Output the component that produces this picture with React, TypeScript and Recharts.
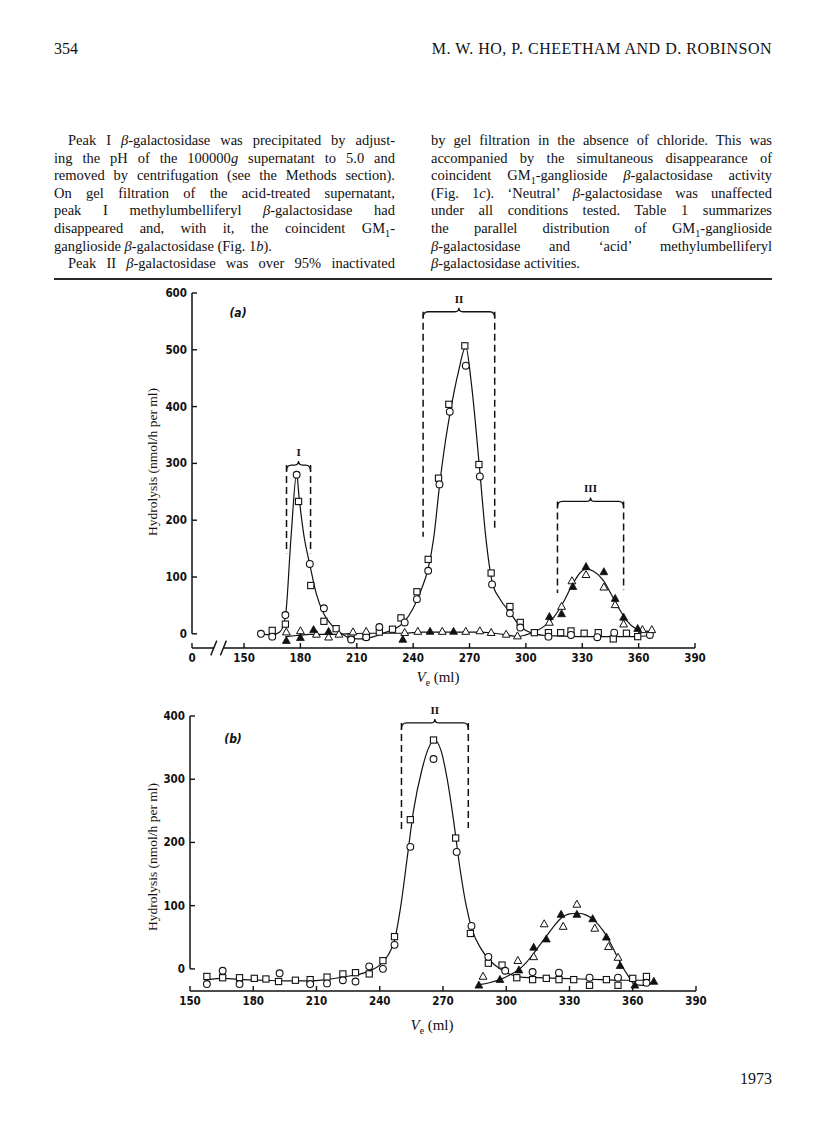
import React from 'react';
import { ComposedChart, Line, Scatter, XAxis, YAxis, ReferenceLine } from 'recharts';

type P = [number, number];

// ---------------- Panel (a) ----------------
const aXTicks = [122.3, 150, 180, 210, 240, 270, 300, 330, 360, 390];
const aXTickLabels = ['0', '150', '180', '210', '240', '270', '300', '330', '360', '390'];
const aYTicks = [0, 100, 200, 300, 400, 500, 600];

const aCircles: P[] = [
  [159, 0], [165, -5], [172, 33], [178, 280], [185, 123], [192.5, 45], [207, -10], [215, -6],
  [222, 12], [235.5, 20], [242, 61], [248, 111], [254, 263], [259.5, 391], [268, 472],
  [275.5, 277], [282, 87], [291.5, 36], [297, 11], [312, -5], [324, -2], [338, -6], [347, 2], [366, -2],
];
const aSquares: P[] = [
  [165, 6], [172, 17], [179, 233], [185.5, 85], [192.5, 22], [199, 9], [207, -5], [215, -5],
  [222, 3], [229, 8], [233.5, 28], [242, 74], [248, 131], [253.5, 274], [259, 404], [267.5, 507],
  [275, 298], [281.5, 107], [291.5, 48], [297, 20], [304.5, 2], [312, 2], [318.5, 2], [324, 5],
  [331, 1], [338.5, 2], [346.5, -9], [353.5, 1], [359.5, -5],
];
const aOpenTri: P[] = [
  [172.5, 3], [180, 5], [188.5, -1], [195, -6], [200.5, -1], [208, 3], [215, 4], [235.5, 2],
  [242.5, 4], [255.5, 4], [268, 4], [275.5, 5], [281.5, 2], [289.5, -1], [295.5, -4],
  [312.5, 20], [319, 48], [324.5, 93], [332, 104], [341.5, 82], [347.5, 51], [352, 17], [362, 7], [367, 7],
];
const aFilledTri: P[] = [
  [172.5, -12], [180, -7], [187, 7], [195, 4], [234.5, -10], [249, 4], [261.5, 4],
  [312.5, 30], [319, 35], [325, 83], [332, 118], [341.5, 109], [347.5, 62], [352, 29], [359.5, 9],
];
const aCurveMain: P[] = [
  [159, 0], [165, -2], [169, 3], [172, 30], [175, 170], [178, 282], [179.3, 240], [182, 170],
  [185, 122], [188.5, 70], [192.5, 35], [197, 14], [202, 0], [207, -8], [213, -9], [219, -5],
  [225, 2], [230, 8], [235, 20], [240, 45], [244, 75], [248, 115], [251, 170], [254, 260],
  [257, 335], [260, 395], [264, 460], [268, 505], [271, 440], [275.5, 285], [278.5, 175],
  [282, 92], [286, 62], [291.5, 38], [296, 17], [300, 6], [305, 0], [310, -3], [318, -4],
  [330, -5], [340, -5], [350, -5], [358, -5], [366, -3],
];
const aCurveTri: P[] = [
  [172, -5], [178, -3], [185, -1], [195, -1], [205, 0], [215, 1], [225, 1], [235, 1], [245, 3],
  [255, 3], [265, 3], [275, 3], [283, 1], [290, -2], [295.5, -5], [300, -2], [305, 4], [310, 14],
  [315, 30], [320, 56], [325, 88], [329, 108], [332, 114], [336, 110], [341, 95], [346, 66],
  [350, 42], [354, 22], [358, 10], [362, 5], [368, 4],
];
const aBrackets = [
  { label: 'I', left: 172.6, right: 185.4, top: 297, bottomL: 142, bottomR: 142 },
  { label: 'II', left: 245.3, right: 283.4, top: 567, bottomL: 171, bottomR: 183 },
  { label: 'III', left: 316.8, right: 352, top: 233, bottomL: 72, bottomR: 77 },
];

// ---------------- Panel (b) ----------------
const bXTicks = [150, 180, 210, 240, 270, 300, 330, 360, 390];
const bYTicks = [0, 100, 200, 300, 400];

const bSquares: P[] = [
  [158, -12], [165.5, -14], [173.5, -14], [180.5, -15], [186, -16], [192, -20], [200, -18],
  [207, -17], [215, -13], [222.5, -8], [228.5, -6], [235, -8], [241.5, 13], [247, 51],
  [254.5, 236], [265.5, 362], [276, 207], [283, 56], [291.5, 9], [298, 6], [305, -14],
  [312.5, -17], [319, -15], [325, -17], [332, -17], [339.5, -26], [347.5, -17], [353, -26],
  [360, -15], [366.5, -12],
];
const bCircles: P[] = [
  [158, -24], [165.5, -3], [173.5, -24], [192.5, -7], [207, -24], [215, -23], [222.5, -18],
  [228.5, -20], [235, 4], [241.5, 0], [247, 38], [254.5, 193], [265.5, 332], [276.5, 185],
  [283.5, 68], [291.5, 19], [299.5, -3], [312.5, -5], [325, -6], [339.5, -14], [353, -14], [366.5, -22],
];
const bOpenTri: P[] = [
  [289, -12], [305.5, 13], [313, 19], [318, 71], [327, 67], [333.5, 102], [342, 64], [348.5, 35], [353, 18],
];
const bFilledTri: P[] = [
  [287, -26], [297, -17], [306, -2], [313, 34], [319, 47], [326, 86], [333.5, 86], [341, 79],
  [347.5, 50], [354, 5], [361, -26], [370, -20],
];
const bCurveMain: P[] = [
  [158, -17], [166, -15], [175, -17], [185, -18], [195, -19], [205, -19], [215, -17], [224, -12],
  [231, -8], [236, -2], [240, 6], [244, 22], [247, 45], [250, 100], [253, 175], [256, 250],
  [260, 315], [263, 348], [266, 362], [269, 346], [272, 300], [275, 235], [278, 160], [281, 100],
  [284, 60], [288, 32], [292, 14], [297, 0], [302, -9], [307, -13], [315, -14], [325, -15],
  [335, -16], [345, -17], [355, -18], [366, -18],
];
const bCurveTri: P[] = [
  [287, -25], [292, -22], [297, -17], [302, -9], [306, -1], [310, 12], [314, 29], [318, 47],
  [322, 65], [326, 80], [330, 87], [334, 88], [338, 85], [342, 76], [346, 60], [350, 37],
  [354, 10], [358, -12], [361, -25], [365, -26], [370, -20],
];
const bBrackets = [
  { label: 'II', left: 250.3, right: 282, top: 389, bottomL: 221, bottomR: 223 },
];

// ---------------- helpers ----------------
const INK = '#111';
const serif = "'Liberation Serif', 'Times New Roman', serif";
const tickFont = "'Liberation Sans Narrow', 'DejaVu Sans Condensed', 'Liberation Sans', sans-serif";

const pts = (arr: P[]) => arr.map(([x, y]) => ({ x, y }));

const CircleMark = (p: any) => (
  <circle cx={p.cx} cy={p.cy} r={3.4} fill="#fff" stroke={INK} strokeWidth={1.1} />
);
const SquareMark = (p: any) => (
  <rect x={p.cx - 3.1} y={p.cy - 3.1} width={6.2} height={6.2} fill="#fff" stroke={INK} strokeWidth={1.1} />
);
const triPath = (cx: number, cy: number) =>
  `M${cx},${cy - 4.2} L${cx + 3.9},${cy + 2.8} L${cx - 3.9},${cy + 2.8} Z`;
const OpenTriMark = (p: any) => (
  <path d={triPath(p.cx, p.cy)} fill="#fff" stroke={INK} strokeWidth={1} />
);
const FilledTriMark = (p: any) => (
  <path d={triPath(p.cx, p.cy)} fill={INK} stroke={INK} strokeWidth={0.8} />
);

const makeXTick = (labels?: string[], ticks?: number[]) => (p: any) => {
  const v = p.payload.value;
  let text = String(v);
  if (labels && ticks) {
    const i = ticks.indexOf(v);
    if (i >= 0) text = labels[i];
  }
  return (
    <g>
      <line x1={p.x} y1={p.y} x2={p.x} y2={p.y - 5} stroke={INK} strokeWidth={1.4} />
      <text x={p.x} y={p.y + 14} textAnchor="middle" fill={INK}
        style={{ fontFamily: tickFont, fontWeight: 700, fontSize: 11.5 }}>{text}</text>
    </g>
  );
};
const YTick = (p: any) => (
  <g>
    <line x1={p.x} y1={p.y} x2={p.x + 5} y2={p.y} stroke={INK} strokeWidth={1.4} />
    <text x={p.x - 5} y={p.y + 4} textAnchor="end" fill={INK}
      style={{ fontFamily: tickFont, fontWeight: 700, fontSize: 11.5 }}>{p.payload.value}</text>
  </g>
);

const braceShape = (label: string) => (p: any) => {
  const { x1, x2, y1 } = p;
  const y = y1;
  const xm = (x1 + x2) / 2;
  const d = `M${x1},${y + 6} Q${x1},${y} ${x1 + 5},${y} L${xm - 4},${y} Q${xm},${y} ${xm},${y - 4} ` +
    `Q${xm},${y} ${xm + 4},${y} L${x2 - 5},${y} Q${x2},${y} ${x2},${y + 6}`;
  return (
    <g>
      <path d={d} fill="none" stroke={INK} strokeWidth={1.3} />
      <text x={xm} y={y - 9} textAnchor="middle" fill={INK}
        style={{ fontFamily: serif, fontWeight: 700, fontSize: 11 }}>{label}</text>
    </g>
  );
};

const renderBrackets = (list: typeof aBrackets) =>
  list.flatMap((b, i) => [
    <ReferenceLine key={`bl${i}`} ifOverflow="visible" segment={[{ x: b.left, y: b.top }, { x: b.left, y: b.bottomL }]}
      stroke={INK} strokeWidth={1.5} strokeDasharray="7 4" />,
    <ReferenceLine key={`br${i}`} ifOverflow="visible" segment={[{ x: b.right, y: b.top }, { x: b.right, y: b.bottomR }]}
      stroke={INK} strokeWidth={1.5} strokeDasharray="7 4" />,
    <ReferenceLine key={`bb${i}`} ifOverflow="visible" segment={[{ x: b.left, y: b.top }, { x: b.right, y: b.top }]}
      shape={braceShape(b.label)} />,
  ]);

const seriesEls = (circles: P[], squares: P[], openT: P[], filledT: P[], curveMain: P[], curveTri: P[]) => [
  <Line key="cm" data={pts(curveMain)} dataKey="y" type="monotone" dot={false} activeDot={false}
    stroke={INK} strokeWidth={1.2} isAnimationActive={false} />,
  <Line key="ct" data={pts(curveTri)} dataKey="y" type="monotone" dot={false} activeDot={false}
    stroke={INK} strokeWidth={1.2} isAnimationActive={false} />,
  <Scatter key="sq" data={pts(squares)} dataKey="y" shape={SquareMark} isAnimationActive={false} />,
  <Scatter key="ci" data={pts(circles)} dataKey="y" shape={CircleMark} isAnimationActive={false} />,
  <Scatter key="ot" data={pts(openT)} dataKey="y" shape={OpenTriMark} isAnimationActive={false} />,
  <Scatter key="ft" data={pts(filledT)} dataKey="y" shape={FilledTriMark} isAnimationActive={false} />,
];

const abs = (s: React.CSSProperties): React.CSSProperties => ({ position: 'absolute', ...s });
const sub1 = <sub style={{ fontSize: '0.7em', verticalAlign: 'sub', lineHeight: 0 }}>1</sub>;
const B = <i>β</i>;

const leftLines: React.ReactNode[] = [
  <>Peak I {B}-galactosidase was precipitated by adjust-</>,
  <>ing the pH of the 100000<i>g</i> supernatant to 5.0 and</>,
  <>removed by centrifugation (see the Methods section).</>,
  <>On gel filtration of the acid-treated supernatant,</>,
  <>peak I methylumbelliferyl {B}-galactosidase had</>,
  <>disappeared and, with it, the coincident GM{sub1}-</>,
  <>ganglioside {B}-galactosidase (Fig. 1<i>b</i>).</>,
  <>Peak II {B}-galactosidase was over 95% inactivated</>,
];
const leftIndent = [true, false, false, false, false, false, false, true];
const leftLast = [false, false, false, false, false, false, true, false];
const rightLines: React.ReactNode[] = [
  <>by gel filtration in the absence of chloride. This was</>,
  <>accompanied by the simultaneous disappearance of</>,
  <>coincident GM{sub1}-ganglioside {B}-galactosidase activity</>,
  <>(Fig. 1<i>c</i>). ‘Neutral’ {B}-galactosidase was unaffected</>,
  <>under all conditions tested. Table 1 summarizes</>,
  <>the parallel distribution of GM{sub1}-ganglioside</>,
  <>{B}-galactosidase and ‘acid’ methylumbelliferyl</>,
  <>{B}-galactosidase activities.</>,
];
const rightLast = [false, false, false, false, false, false, false, true];

const TXT_L = 54;
const COL_W = 341;
const TXT_R = 431;
const LINE0 = 140;
const LSTEP = 17.6;
const FS = 14.5;

const YTitle = ({ cy }: { cy: number }) => (
  <div style={abs({ left: 153, top: cy, transform: 'translate(-50%,-50%) rotate(-90deg)', whiteSpace: 'nowrap',
    fontFamily: serif, fontSize: 13.5, color: INK })}>Hydrolysis (nmol/h per ml)</div>
);
const VeLabel = ({ cx, cy }: { cx: number; cy: number }) => (
  <div style={abs({ left: cx, top: cy, transform: 'translate(-50%,-50%)', whiteSpace: 'nowrap',
    fontFamily: serif, fontSize: 15, color: INK })}><i>V</i><sub style={{ fontSize: '0.65em', lineHeight: 0 }}>e</sub> (ml)</div>
);

export default function App() {
  return (
    <div style={abs({ left: 0, top: 0, width: 816, height: 1136, background: '#fff', overflow: 'hidden' })}>
      {/* running head */}
      <div style={abs({ left: TXT_L, top: 40, fontFamily: serif, fontSize: 16, color: INK })}>354</div>
      <div style={abs({ right: 816 - (TXT_R + COL_W), top: 40, fontFamily: serif, fontSize: 16, letterSpacing: 0.5,
        color: INK, whiteSpace: 'nowrap' })}>
        M. W. HO, P. CHEETHAM AND D. ROBINSON
      </div>

      {leftLines.map((ln, i) => (
        <div key={`l${i}`} style={abs({
          left: TXT_L + (leftIndent[i] ? 14 : 0), width: COL_W - (leftIndent[i] ? 14 : 0),
          top: LINE0 + i * LSTEP - 9, height: 18, lineHeight: '18px',
          fontFamily: serif, fontSize: FS, color: INK,
          textAlign: 'justify', textAlignLast: leftLast[i] ? 'left' : 'justify',
        } as React.CSSProperties)}>{ln}</div>
      ))}
      {rightLines.map((ln, i) => (
        <div key={`r${i}`} style={abs({
          left: TXT_R, width: COL_W, top: LINE0 + i * LSTEP - 9, height: 18, lineHeight: '18px',
          fontFamily: serif, fontSize: FS, color: INK,
          textAlign: 'justify', textAlignLast: rightLast[i] ? 'left' : 'justify',
        } as React.CSSProperties)}>{ln}</div>
      ))}
      <div style={abs({ left: TXT_L, top: 278, width: TXT_R + COL_W - TXT_L, height: 2, background: '#2a2a2a' })} />

      {/* Panel (a) */}
      <div style={abs({ left: 0, top: 0 })}>
        <ComposedChart width={816} height={700} margin={{ top: 293, left: 152, right: 121, bottom: 22 }}>
          <XAxis dataKey="x" type="number" domain={[122.3, 390]} ticks={aXTicks} interval={0}
            axisLine={false} tickLine={false} tickSize={0} tickMargin={0} height={30}
            tick={makeXTick(aXTickLabels, aXTicks)} allowDataOverflow />
          <YAxis dataKey="y" type="number" domain={[-25, 600]} ticks={aYTicks} interval={0}
            axisLine={false} tickLine={false} tickSize={0} tickMargin={0} width={40} tick={YTick} allowDataOverflow />
          <ReferenceLine ifOverflow="visible" segment={[{ x: 122.3, y: 0 }, { x: 122.3, y: 600 }]} stroke={INK} strokeWidth={1.5} />
          <ReferenceLine ifOverflow="visible" segment={[{ x: 122.3, y: -25 }, { x: 134, y: -25 }]} stroke={INK} strokeWidth={1.5} />
          <ReferenceLine ifOverflow="visible" segment={[{ x: 139, y: -25 }, { x: 390, y: -25 }]} stroke={INK} strokeWidth={1.5} />
          <ReferenceLine ifOverflow="visible" segment={[{ x: 132.3, y: -38 }, { x: 135.5, y: -12 }]} stroke={INK} strokeWidth={1.4} />
          <ReferenceLine ifOverflow="visible" segment={[{ x: 137.4, y: -38 }, { x: 140.6, y: -12 }]} stroke={INK} strokeWidth={1.4} />
          {renderBrackets(aBrackets)}
          {seriesEls(aCircles, aSquares, aOpenTri, aFilledTri, aCurveMain, aCurveTri)}
        </ComposedChart>
      </div>
      <div style={abs({ left: 238, top: 313, transform: 'translate(-50%,-50%)', fontFamily: tickFont, fontWeight: 700,
        fontStyle: 'italic', fontSize: 12, color: INK })}>(a)</div>
      <YTitle cy={462} />
      <VeLabel cx={438} cy={677} />

      {/* Panel (b) */}
      <div style={abs({ left: 0, top: 680 })}>
        <ComposedChart width={816} height={370} margin={{ top: 36, left: 150, right: 120, bottom: 29 }}>
          <XAxis dataKey="x" type="number" domain={[150, 390]} ticks={bXTicks} interval={0}
            axisLine={false} tickLine={false} tickSize={0} tickMargin={0} height={30}
            tick={makeXTick()} allowDataOverflow />
          <YAxis dataKey="y" type="number" domain={[-35, 400]} ticks={bYTicks} interval={0}
            axisLine={false} tickLine={false} tickSize={0} tickMargin={0} width={40} tick={YTick} allowDataOverflow />
          <ReferenceLine ifOverflow="visible" segment={[{ x: 150, y: 0 }, { x: 150, y: 400 }]} stroke={INK} strokeWidth={1.5} />
          <ReferenceLine ifOverflow="visible" segment={[{ x: 150, y: -35 }, { x: 390, y: -35 }]} stroke={INK} strokeWidth={1.5} />
          {renderBrackets(bBrackets)}
          {seriesEls(bCircles, bSquares, bOpenTri, bFilledTri, bCurveMain, bCurveTri)}
        </ComposedChart>
      </div>
      <div style={abs({ left: 233, top: 739, transform: 'translate(-50%,-50%)', fontFamily: tickFont, fontWeight: 700,
        fontStyle: 'italic', fontSize: 12, color: INK })}>(b)</div>
      <YTitle cy={857} />
      <VeLabel cx={432} cy={1025} />

      <div style={abs({ right: 816 - (TXT_R + COL_W), top: 1070, fontFamily: serif, fontSize: 16, color: INK })}>1973</div>
    </div>
  );
}
